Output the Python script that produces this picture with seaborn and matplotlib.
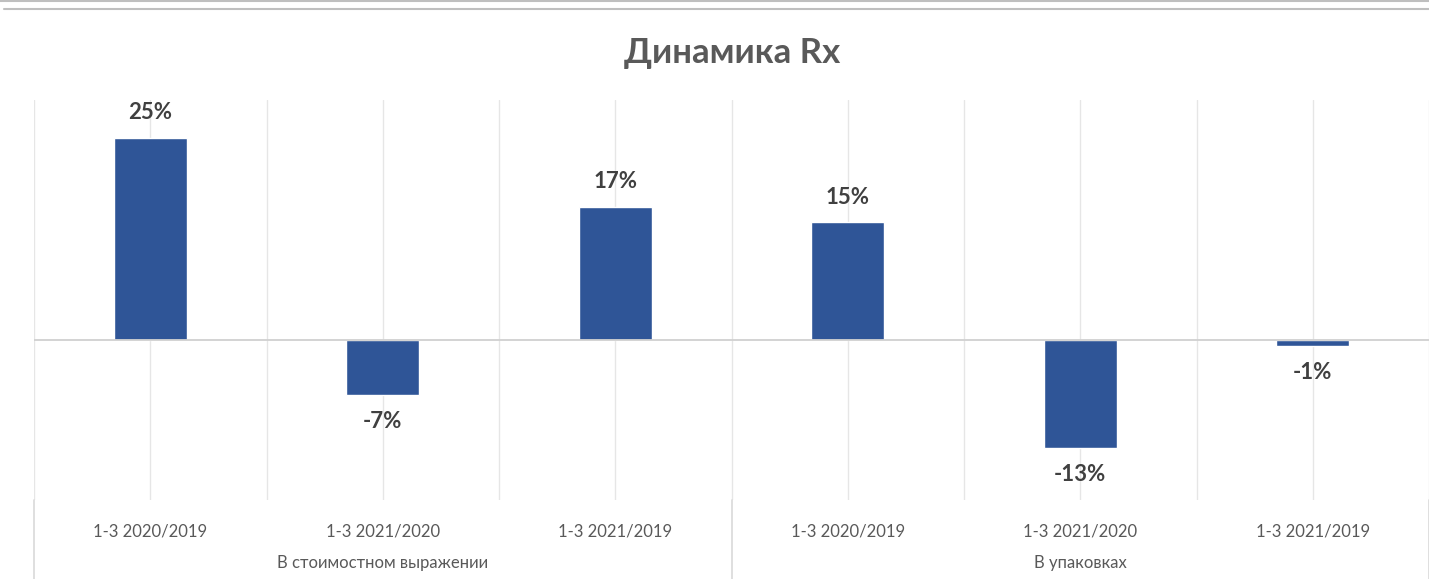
import matplotlib
matplotlib.use("Agg")
import matplotlib.pyplot as plt
import seaborn as sns
import pandas as pd
from matplotlib.lines import Line2D

categories = ["1-3 2020/2019", "1-3 2021/2020", "1-3 2021/2019",
              "1-3 2020/2019", "1-3 2021/2020", "1-3 2021/2019"]
groups = ["В стоимостном выражении", "В упаковках"]
values = [25, -6.8, 16.5, 14.6, -13.4, -0.7]
labels = ["25%", "-7%", "17%", "15%", "-13%", "-1%"]
title = "Динамика Rx"

sns.set_theme(style="white")
plt.rcParams['font.family'] = ['Lato', 'DejaVu Sans']

df = pd.DataFrame({"pos": [f"c{i}" for i in range(len(values))], "value": values})

fig = plt.figure(figsize=(14.29, 5.79), dpi=100)
ax = fig.add_axes([34/1429, 79/579, 1 - 34/1429, 400/579])

bar_color = "#2F5597"
sns.barplot(data=df, x="pos", y="value", color=bar_color, width=0.315,
            saturation=1, ax=ax, zorder=3)

ax.set_xlim(-0.5, len(values) - 0.5)
ax.set_ylim(-19.8, 29.7)

# vertical gridlines at centers and boundaries
for k in range(2 * len(values) + 1):
    xv = -0.5 + 0.5 * k
    ax.axvline(xv, color="#e6e6e6", lw=1, zorder=0)
ax.axhline(0, color="#d0d0d0", lw=1.3, zorder=4)

for s in ax.spines.values():
    s.set_visible(False)
ax.set_yticks([])
ax.set_xticks(range(len(values)))
ax.set_xticklabels(categories, fontsize=12, color="#595959")
ax.tick_params(axis="x", length=0, pad=17)
ax.set_xlabel("")
ax.set_ylabel("")

# bar labels
for i, (v, lab) in enumerate(zip(values, labels)):
    off = 18 if v >= 0 else -19
    ax.annotate(lab, (i, v), xytext=(0, off), textcoords="offset points",
                ha="center", va="center", fontsize=16, fontweight="bold",
                color="#404040", zorder=5)

# group dividers and labels below axis
tr = ax.get_xaxis_transform()
for xv in [-0.5, 2.5, len(values) - 0.5]:
    ax.add_line(Line2D([xv, xv], [0, -0.2], transform=tr, color="#d9d9d9",
                       lw=1.2, clip_on=False))
ax.text(1, -0.158, groups[0], transform=tr, ha="center", va="center",
        fontsize=12, color="#595959")
ax.text(4, -0.158, groups[1], transform=tr, ha="center", va="center",
        fontsize=12, color="#595959")

# title
fig.text(732/1429, 1 - 53/579, title, ha="center", va="center",
         fontsize=25, fontweight="bold", color="#595959")

# top border lines
fig.add_artist(Line2D([0, 1], [1 - 1/579, 1 - 1/579], color="#bfbfbf", lw=1.5))
fig.add_artist(Line2D([4/1429, 1], [1 - 9/579, 1 - 9/579], color="#bfbfbf", lw=1.5))

fig.savefig("out.png", dpi=100, facecolor="white")
